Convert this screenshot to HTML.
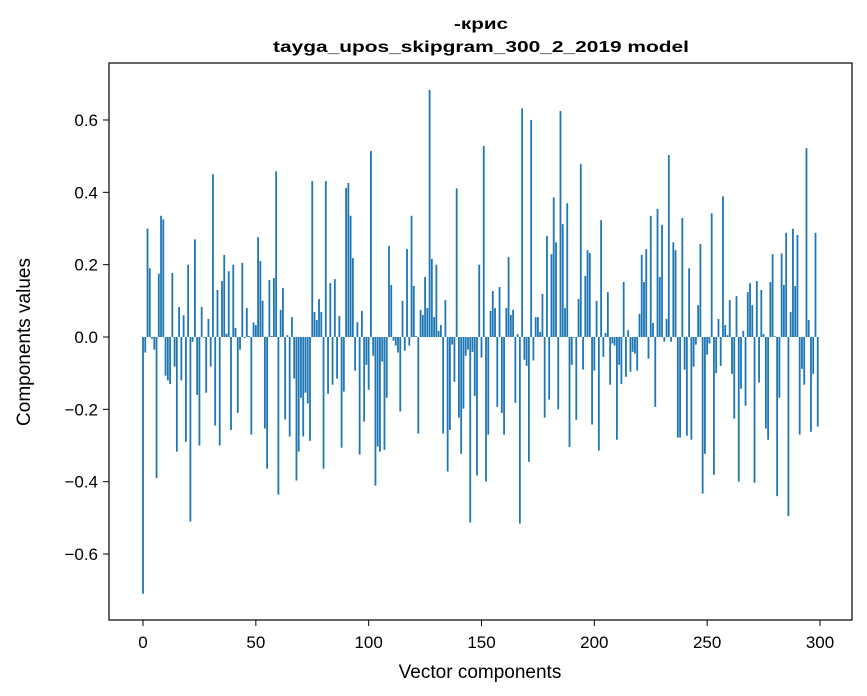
<!DOCTYPE html>
<html><head><meta charset="utf-8"><style>
body{margin:0;background:#fff;}
svg{display:block;font-family:"Liberation Sans","DejaVu Sans",sans-serif;}
</style></head><body>
<svg id="chart" width="867" height="696" viewBox="0 0 867 696" xmlns="http://www.w3.org/2000/svg">
<rect width="867" height="696" fill="#fff"/>
<text x="481" y="29" text-anchor="middle" font-size="16" font-weight="bold" textLength="54" lengthAdjust="spacingAndGlyphs">-крис</text>
<text x="481" y="52" text-anchor="middle" font-size="16" font-weight="bold" textLength="416" lengthAdjust="spacingAndGlyphs">tayga_upos_skipgram_300_2_2019 model</text>
<g id="bars"></g>
<g id="axes"></g>
<rect x="109" y="63" width="743" height="557" fill="none" stroke="#000" stroke-width="1.2"/>
<text x="480" y="678" text-anchor="middle" font-size="19">Vector components</text>
<text transform="translate(30,342) rotate(-90)" text-anchor="middle" font-size="19">Components values</text>
</svg>
<script>
const values = [
-0.71,-0.043,0.30,0.19,-0.005,-0.035,-0.39,0.175,0.335,0.325,
-0.107,-0.12,-0.13,0.177,-0.082,-0.317,0.083,-0.12,0.06,-0.29,
0.2,-0.51,-0.013,0.27,-0.16,-0.30,0.083,-0.002,-0.154,0.05,
-0.082,0.45,-0.245,0.13,-0.30,0.155,0.227,0.009,0.182,-0.257,
0.2,0.025,-0.21,-0.035,0.205,-0.003,0.08,0.003,-0.27,0.04,
0.033,0.276,0.21,0.1,-0.253,-0.364,0.158,0.003,0.163,0.458,
-0.436,0.075,0.135,-0.228,0.005,-0.275,0.055,-0.115,-0.397,-0.317,
-0.168,-0.275,-0.154,-0.184,-0.287,0.431,0.069,0.047,0.105,0.069,
-0.364,0.431,-0.157,0.149,-0.132,0.16,-0.115,0.058,-0.306,-0.151,
0.412,0.426,0.335,0.218,-0.093,0.041,-0.325,0.072,-0.234,-0.077,
-0.146,0.514,-0.052,-0.411,-0.303,-0.317,-0.068,-0.312,-0.168,0.252,
0.144,-0.01,-0.024,-0.043,-0.206,0.1,-0.038,0.243,-0.024,0.335,
0.141,0.003,-0.267,0.075,0.061,0.166,0.08,0.683,0.216,0.055,
0.2,0.017,0.033,-0.267,0.102,-0.372,-0.257,-0.021,-0.124,0.411,
-0.223,-0.323,-0.198,-0.052,-0.035,-0.513,-0.041,-0.163,-0.383,0.2,
-0.057,0.528,-0.40,-0.27,0.072,0.127,0.08,-0.193,0.138,-0.21,
-0.27,0.08,0.221,0.061,0.075,-0.182,0.008,-0.516,0.632,-0.063,
-0.08,-0.345,0.6,-0.065,0.055,0.055,0.014,0.119,-0.223,0.279,
-0.173,0.229,0.386,0.262,-0.2,0.625,0.312,0.08,0.37,-0.304,
-0.077,-0.002,-0.229,0.105,0.478,-0.09,0.169,0.24,0.232,-0.242,
-0.093,0.1,-0.314,0.323,-0.055,0.011,0.124,-0.132,-0.018,-0.024,
-0.284,-0.077,-0.13,0.152,-0.11,0.019,-0.096,-0.041,-0.046,-0.093,
0.064,0.227,0.152,0.243,-0.06,0.335,0.039,-0.193,0.354,0.166,
0.31,-0.013,0.05,0.503,-0.013,0.262,0.24,-0.278,-0.278,0.329,
-0.09,-0.273,0.19,-0.284,-0.082,-0.021,0.088,0.257,-0.433,-0.323,
-0.049,-0.018,0.342,-0.381,-0.1,0.05,-0.08,0.389,0.033,0.005,
0.102,-0.102,-0.226,0.113,-0.40,-0.143,0.017,-0.19,0.124,0.149,
0.088,-0.403,0.155,-0.126,0.13,0.008,-0.253,-0.284,0.152,0.229,
0.002,-0.44,-0.168,0.231,0.144,0.288,-0.495,0.069,0.299,0.141,
0.282,-0.27,-0.088,-0.132,0.522,0.047,-0.262,-0.102,0.288,-0.248
];
const xTicks = [0,50,100,150,200,250,300];
const yTicks = [-0.6,-0.4,-0.2,0.0,0.2,0.4,0.6];
const yTickLabels = ["\u22120.6","\u22120.4","\u22120.2","0.0","0.2","0.4","0.6"];

const NS = "http://www.w3.org/2000/svg";
function xs(v){ return 143 + v * (677/300); }
function ys(v){ return 337 - v * 361.7; }
const barsG = document.getElementById('bars');
values.forEach((v, i) => {
  const r = document.createElementNS(NS, 'rect');
  const x0 = xs(i - 0.4), x1 = xs(i + 0.4);
  const y0 = Math.min(ys(0), ys(v)), h = Math.abs(ys(v) - ys(0));
  r.setAttribute('x', x0); r.setAttribute('width', x1 - x0);
  r.setAttribute('y', y0); r.setAttribute('height', Math.max(h, 0.01));
  r.setAttribute('fill', '#1f77b4');
  
  
  barsG.appendChild(r);
});
const axesG = document.getElementById('axes');
xTicks.forEach(t => {
  const l = document.createElementNS(NS, 'line');
  l.setAttribute('x1', xs(t)); l.setAttribute('x2', xs(t));
  l.setAttribute('y1', 620); l.setAttribute('y2', 626);
  l.setAttribute('stroke', '#000');
  
  
  axesG.appendChild(l);
  const tx = document.createElementNS(NS, 'text');
  tx.setAttribute('x', xs(t)); tx.setAttribute('y', 648);
  tx.setAttribute('text-anchor', 'middle'); tx.setAttribute('font-size', '17');
  tx.textContent = String(t);
  
  
  axesG.appendChild(tx);
});
yTicks.forEach((t, k) => {
  const l = document.createElementNS(NS, 'line');
  l.setAttribute('x1', 103); l.setAttribute('x2', 109);
  l.setAttribute('y1', ys(t)); l.setAttribute('y2', ys(t));
  l.setAttribute('stroke', '#000');
  
  
  axesG.appendChild(l);
  const tx = document.createElementNS(NS, 'text');
  tx.setAttribute('x', 98); tx.setAttribute('y', ys(t) + 6);
  tx.setAttribute('text-anchor', 'end'); tx.setAttribute('font-size', '17');
  tx.textContent = yTickLabels[k];
  
  
  axesG.appendChild(tx);
});
</script>
</body></html>
